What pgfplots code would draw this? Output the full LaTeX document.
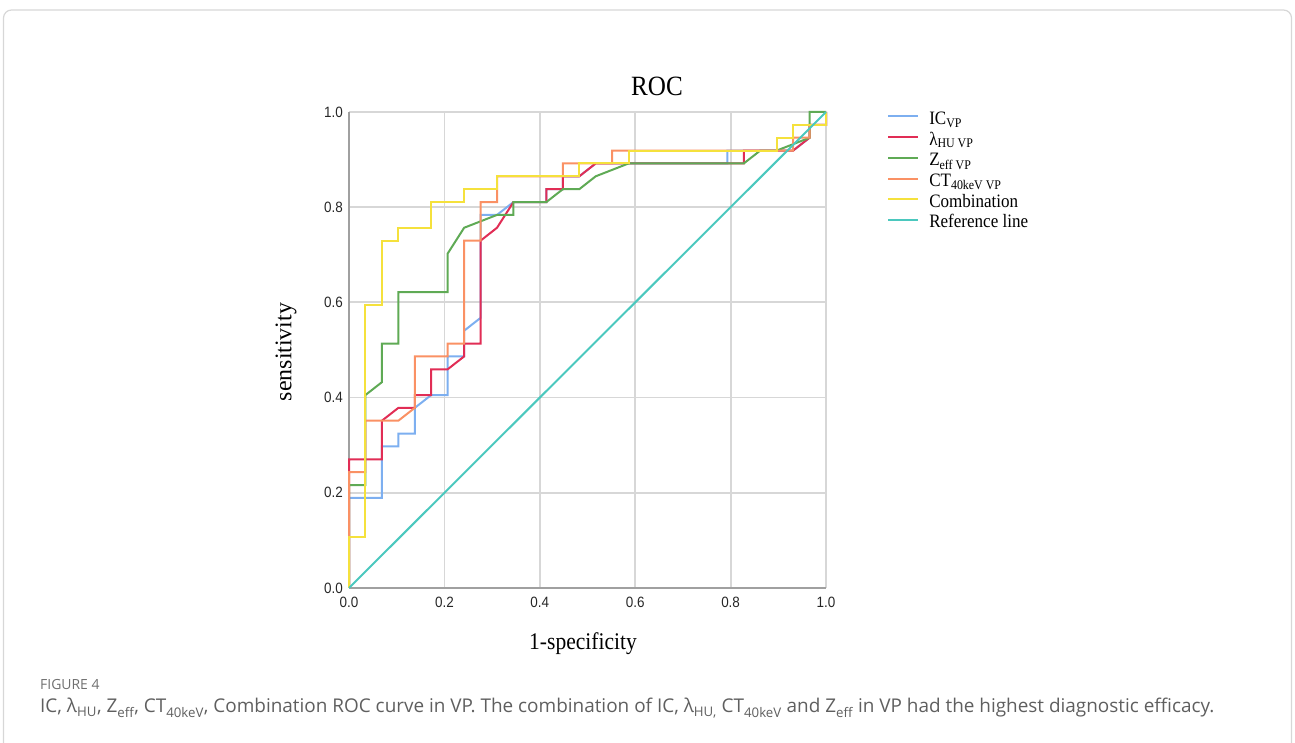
\documentclass[border=0pt]{standalone}
\usepackage{fontspec}
\usepackage{pgfplots}
\pgfplotsset{compat=1.18}
\setmainfont{Liberation Serif}
\newfontfamily\chartserif[FakeStretch=0.9]{Liberation Serif}
\newfontfamily\chartsans[FakeStretch=0.9]{Liberation Sans}
\newfontfamily\capfont{Open Sans}

\definecolor{cIC}{RGB}{125,175,240}
\definecolor{cHU}{RGB}{225,45,85}
\definecolor{cZ}{RGB}{95,170,85}
\definecolor{cCT}{RGB}{250,145,100}
\definecolor{cComb}{RGB}{245,225,60}
\definecolor{cRef}{RGB}{75,200,190}
\definecolor{gridc}{RGB}{215,215,215}
\definecolor{axc}{RGB}{160,160,160}
\definecolor{capc}{RGB}{95,95,95}

\begin{document}
\begin{tikzpicture}[x=1bp,y=1bp]
\useasboundingbox (0,0) rectangle (1295,743);
\draw[gridc, line width=1.2bp, rounded corners=8bp] (3.5,-20) rectangle (1291.5,733);
\begin{axis}[
  scale only axis, width=477bp, height=476bp,
  at={(349bp,155bp)}, anchor=south west,
  xmin=0, xmax=1, ymin=0, ymax=1,
  axis lines=left, axis line style={-, axc, line width=2bp},
  grid=major, major grid style={gridc, line width=1.8bp},
  xtick={0,0.2,0.4,0.6,0.8,1}, ytick={0,0.2,0.4,0.6,0.8,1},
  xticklabels={0.0,0.2,0.4,0.6,0.8,1.0},
  yticklabels={0.0,0.2,0.4,0.6,0.8,1.0},
  major tick length=0pt,
  tick label style={font=\chartsans\fontsize{15}{15}\selectfont, text=black!85},
  xticklabel style={inner sep=0pt, yshift=-9bp},
  yticklabel style={inner sep=0pt, xshift=-6bp},
  clip=false,
  every axis plot/.append style={line width=2bp},
  legend style={at={(1.128,1.0015)}, anchor=north west, draw=none, fill=none,
    inner sep=0pt, font=\chartserif\fontsize{19}{19}\selectfont,
    row sep=2.7bp, column sep=10bp, cells={anchor=west},
    nodes={inner sep=0pt, text height=13bp, text depth=5bp}},
  legend image code/.code={\draw[#1, line width=2bp] (0bp,4bp) -- (30bp,4bp);},
]
% IC VP
\addplot[cIC] coordinates {(0,0)(0,.1892)(.0690,.1892)(.0690,.2973)(.1034,.2973)(.1034,.3243)(.1379,.3243)(.1379,.3784)(.1724,.4054)(.2069,.4054)(.2069,.4865)(.2414,.4865)(.2414,.5405)(.2759,.5676)(.2759,.7838)(.3103,.7838)(.3448,.8108)(.4138,.8108)(.4138,.8378)(.4483,.8378)(.4483,.8649)(.4828,.8649)(.5172,.8919)(.7931,.8919)(.7931,.9189)(.9310,.9189)(.9655,.9459)(.9655,.9730)(1,.9730)(1,1)};
\addlegendentry{IC\textsubscript{VP}}
% lambda HU VP
\addplot[cHU] coordinates {(0,0)(0,.2703)(.0690,.2703)(.0690,.3514)(.1034,.3784)(.1379,.3784)(.1379,.4054)(.1724,.4054)(.1724,.4595)(.2069,.4595)(.2414,.4865)(.2414,.5135)(.2759,.5135)(.2759,.7297)(.3103,.7568)(.3448,.8108)(.4138,.8108)(.4138,.8378)(.4483,.8378)(.4483,.8649)(.4828,.8649)(.5172,.8919)(.8276,.8919)(.8276,.9189)(.9310,.9189)(.9655,.9459)(.9655,.9730)(1,.9730)(1,1)};
\addlegendentry{λ\textsubscript{HU VP}}
% Zeff VP
\addplot[cZ] coordinates {(0,0)(0,.2162)(.0345,.2162)(.0345,.4054)(.0690,.4324)(.0690,.5135)(.1034,.5135)(.1034,.6216)(.2069,.6216)(.2069,.7027)(.2414,.7568)(.3103,.7838)(.3448,.7838)(.3448,.8108)(.4138,.8108)(.4483,.8378)(.4828,.8378)(.5172,.8649)(.5862,.8919)(.8276,.8919)(.8621,.9189)(.8966,.9189)(.9655,.9459)(.9655,1)(1,1)};
\addlegendentry{Z\textsubscript{eff VP}}
% CT40keV VP
\addplot[cCT] coordinates {(0,0)(0,.2432)(.0345,.2432)(.0345,.3514)(.1034,.3514)(.1379,.3784)(.1379,.4865)(.2069,.4865)(.2069,.5135)(.2414,.5135)(.2414,.7297)(.2759,.7297)(.2759,.8108)(.3103,.8108)(.3103,.8649)(.4483,.8649)(.4483,.8919)(.5517,.8919)(.5517,.9189)(.9310,.9189)(.9310,.9459)(.9655,.9459)(.9655,.9730)(1,.9730)(1,1)};
\addlegendentry{CT\textsubscript{40keV VP}}
% Combination
\addplot[cComb] coordinates {(0,0)(0,.1081)(.0345,.1081)(.0345,.5946)(.0690,.5946)(.0690,.7297)(.1034,.7297)(.1034,.7568)(.1724,.7568)(.1724,.8108)(.2414,.8108)(.2414,.8378)(.3103,.8378)(.3103,.8649)(.4828,.8649)(.4828,.8919)(.5862,.8919)(.5862,.9189)(.8966,.9189)(.8966,.9459)(.9310,.9459)(.9310,.9730)(1,.9730)(1,1)};
\addlegendentry{Combination}
% Reference line
\addplot[cRef] coordinates {(0,0)(1,1)};
\addlegendentry{Reference line}
\end{axis}
\node[font=\chartserif\fontsize{28}{28}\selectfont] at (657,657) {ROC};
\node[font=\chartserif\fontsize{24}{24}\selectfont] at (583,99) {1-specificity};
\node[font=\fontsize{24}{24}\selectfont, rotate=90] at (286,391) {sensitivity};
\node[anchor=base west, inner sep=0pt, font=\capfont\fontsize{14}{14}\selectfont, text=capc!90] at (40,53) {FIGURE 4};
\node[anchor=base west, inner sep=0pt, font=\capfont\fontsize{19}{19}\selectfont, text=capc] at (40,30) {IC, λ\textsubscript{HU}, Z\textsubscript{eff}, CT\textsubscript{40keV}, Combination ROC curve in VP. The combination of IC, λ\textsubscript{HU,} CT\textsubscript{40keV} and Z\textsubscript{eff} in VP had the highest diagnostic efficacy.};
\end{tikzpicture}
\end{document}
